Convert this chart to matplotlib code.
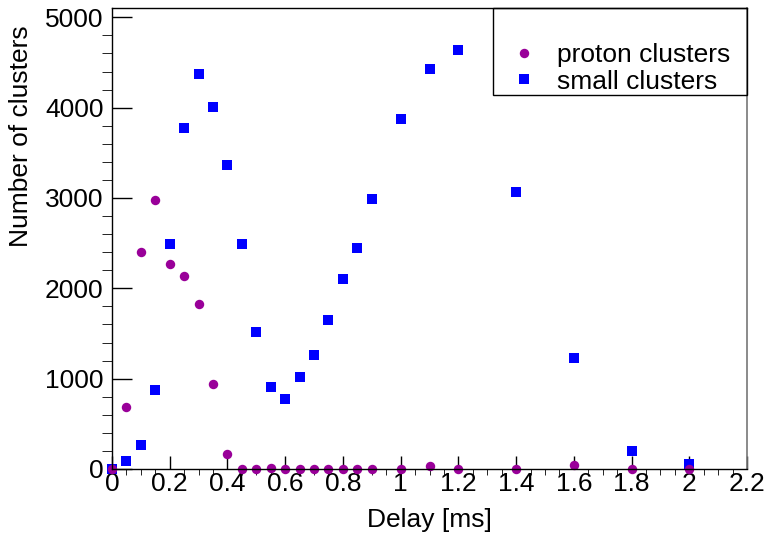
import matplotlib.pyplot as plt
from matplotlib.patches import Rectangle
from matplotlib.ticker import MultipleLocator

plt.rcParams['font.family'] = ['Liberation Sans', 'DejaVu Sans']

# data
proton_delay = [0, 0.05, 0.1, 0.15, 0.2, 0.25, 0.3, 0.35, 0.4, 0.45, 0.5, 0.55, 0.6, 0.65,
                0.7, 0.75, 0.8, 0.85, 0.9, 1.0, 1.1, 1.2, 1.4, 1.6, 1.8, 2.0]
proton_counts = [0, 690, 2400, 2980, 2270, 2140, 1830, 940, 170, 0, 0, 10, 0, 0,
                 0, 0, 0, 0, 0, 0, 30, 0, 0, 40, 0, 0]

small_delay = [0, 0.05, 0.1, 0.15, 0.2, 0.25, 0.3, 0.35, 0.4, 0.45, 0.5, 0.55, 0.6, 0.65,
               0.7, 0.75, 0.8, 0.85, 0.9, 1.0, 1.1, 1.2, 1.4, 1.6, 1.8, 2.0]
small_counts = [0, 90, 265, 875, 2490, 3780, 4376, 4004, 3369, 2487, 1516, 911, 771, 1022,
                1258, 1646, 2106, 2443, 2989, 3874, 4428, 4638, 3065, 1225, 203, 55]

fs = 19

fig = plt.figure(figsize=(7.65, 5.43), dpi=100)
ax = fig.add_axes([112/765, 74/543, 635/765, 461/543])

sq, = ax.plot(small_delay, small_counts, 's', color='#0000ff', markersize=7.2,
              markeredgewidth=0, clip_on=False, label='small clusters')
pr, = ax.plot(proton_delay, proton_counts, 'o', color='#990099', markersize=6.8,
              markeredgewidth=0, clip_on=False, label='proton clusters')

ax.set_xlim(0, 2.2)
ax.set_ylim(0, 5103)
ax.xaxis.set_minor_locator(MultipleLocator(0.05))
ax.yaxis.set_major_locator(MultipleLocator(1000))
ax.yaxis.set_minor_locator(MultipleLocator(200))
ax.set_xticks([0, 0.2, 0.4, 0.6, 0.8, 1, 1.2, 1.4, 1.6, 1.8, 2, 2.2])
ax.set_xticklabels(['0', '0.2', '0.4', '0.6', '0.8', '1', '1.2', '1.4', '1.6', '1.8', '2', '2.2'])

ax.tick_params(direction='in', top=False, right=False, labelsize=fs, width=1)
ax.tick_params(axis='x', which='major', length=9.5, pad=2)
ax.tick_params(axis='x', which='minor', length=4.5)
ax.tick_params(axis='y', which='major', length=14.5, pad=6)
ax.tick_params(axis='y', which='minor', length=7.2)

for s in ['left', 'bottom', 'top']:
    ax.spines[s].set_linewidth(1)
    ax.spines[s].set_color('black')
ax.spines['right'].set_color('#777777')
ax.spines['right'].set_linewidth(1.2)

ax.set_xlabel('Delay [ms]', fontsize=fs)
ax.xaxis.set_label_coords(0.5, -0.085)
ax.set_ylabel('Number of clusters', fontsize=fs, loc='top')
ax.yaxis.set_label_coords(-0.125, 0.963)

# legend box like the ROOT TLegend
ax.add_patch(Rectangle((0.6, 0.811), 0.4, 0.189, transform=ax.transAxes,
                       fill=False, edgecolor='black', linewidth=1, clip_on=False, zorder=5))
ax.legend([pr, sq], ['proton clusters', 'small clusters'], frameon=False, fontsize=fs,
          loc='center left', bbox_to_anchor=(0.628, 0.869), borderpad=0, borderaxespad=0,
          handlelength=1, handletextpad=0.75, labelspacing=0.1)

fig.savefig('out.png', dpi=100)
